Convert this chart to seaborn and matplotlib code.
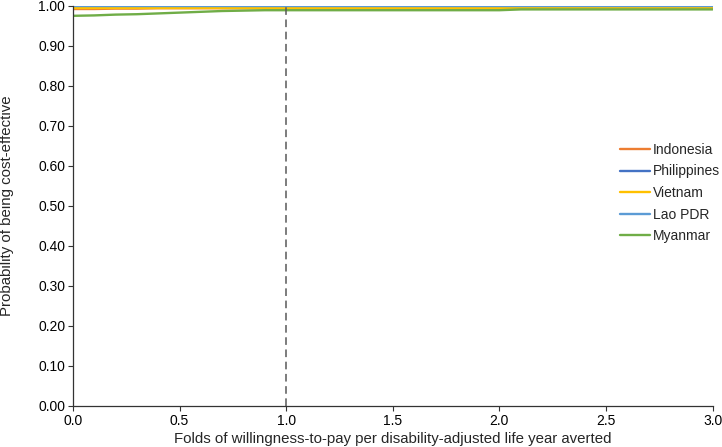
import matplotlib
matplotlib.use("Agg")
import matplotlib.pyplot as plt
import seaborn as sns
import numpy as np
import pandas as pd

x_folds = [round(i * 0.1, 1) for i in range(31)]

indonesia = [0.992, 0.992, 0.993, 0.993, 0.994, 0.994, 0.994, 0.994, 0.994, 0.994,
             0.994, 0.994, 0.994, 0.994, 0.994, 0.994, 0.994, 0.994, 0.994, 0.994,
             0.994, 0.993, 0.993, 0.993, 0.993, 0.993, 0.993, 0.993, 0.993, 0.993, 0.993]
philippines = [0.997] * 31
vietnam = [0.995] * 31
lao_pdr = [0.999] * 31
myanmar = [0.975, 0.976, 0.978, 0.979, 0.981, 0.983, 0.985, 0.987, 0.988, 0.989,
           0.989, 0.989, 0.989, 0.989, 0.989, 0.989, 0.989, 0.989, 0.989, 0.989,
           0.989, 0.991, 0.991, 0.991, 0.991, 0.991, 0.991, 0.991, 0.991, 0.991, 0.991]

countries = ["Indonesia", "Philippines", "Vietnam", "Lao PDR", "Myanmar"]
colors = ["#ED7D31", "#4472C4", "#FFC000", "#5B9BD5", "#70AD47"]
series = [indonesia, philippines, vietnam, lao_pdr, myanmar]

rows = []
for c, vals in zip(countries, series):
    for xv, yv in zip(x_folds, vals):
        rows.append({"x": xv, "p": yv, "country": c})
df = pd.DataFrame(rows)

sns.set_style("ticks")
plt.rcParams["font.family"] = ["Liberation Sans", "DejaVu Sans"]

fig = plt.figure(figsize=(7.22, 4.47), dpi=100)
ax = fig.add_axes([0.101, 0.092, 0.886, 0.895])

sns.lineplot(data=df, x="x", y="p", hue="country", hue_order=countries,
             palette=dict(zip(countries, colors)), linewidth=1.7, ax=ax)

ax.axvline(1.0, color="#595959", linestyle=(0, (5, 3)), linewidth=1.1)

ax.set_xlim(0, 3.0)
ax.set_ylim(0, 1.0)
ax.set_xticks(np.arange(0, 3.01, 0.5))
ax.set_xticklabels([f"{v:.1f}" for v in np.arange(0, 3.01, 0.5)], fontsize=10)
ax.set_yticks(np.arange(0, 1.001, 0.1))
ax.set_yticklabels([f"{v:.2f}" for v in np.arange(0, 1.001, 0.1)], fontsize=10)
ax.set_xlabel("Folds of willingness-to-pay per disability-adjusted life year averted",
              fontsize=10.8, labelpad=3)
ax.set_ylabel("Probability of being cost-effective", fontsize=10.8)
ax.yaxis.set_label_coords(-(73 - 14) / 640, 0.5)
ax.tick_params(axis="both", length=3.5, width=0.8, pad=2, colors="#333333", labelcolor="black")
for s in ["top", "right"]:
    ax.spines[s].set_visible(False)
for s in ["left", "bottom"]:
    ax.spines[s].set_color("#333333")
    ax.spines[s].set_linewidth(0.9)

leg = ax.legend(loc="center left", bbox_to_anchor=((620 - 73) / 640, 0.532),
                frameon=False, fontsize=10, handlelength=2.2, handletextpad=0.2,
                labelspacing=0.55, borderaxespad=0, borderpad=0)

fig.savefig("out.png", dpi=100)
